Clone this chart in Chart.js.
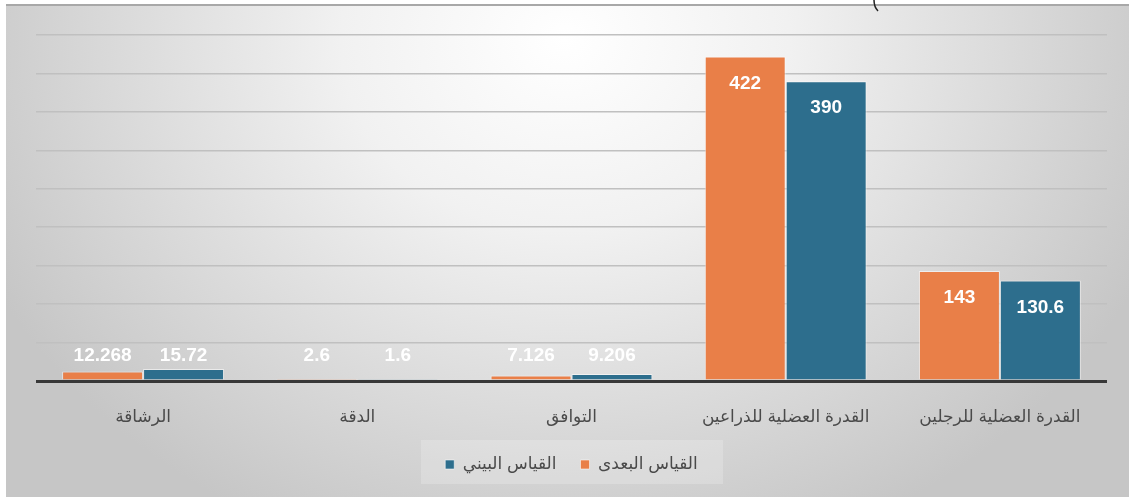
<!DOCTYPE html>
<html>
<head>
<meta charset="utf-8">
<script src="https://cdn.jsdelivr.net/npm/chart.js@4/dist/chart.umd.min.js"></script>
<style>
  html, body { margin: 0; padding: 0; background: #fff; }
  #wrap { width: 1129px; height: 497px; position: relative; }
</style>
</head>
<body>
<div id="wrap"><canvas id="chart"></canvas></div>
<script>
// ─── Data ───
const categories = ['الرشاقة', 'الدقة', 'التوافق', 'القدرة العضلية للذراعين', 'القدرة العضلية للرجلين'];
const postValues = [12.268, 2.6, 7.126, 422, 143];      // القياس البعدى
const midValues = [15.72, 1.6, 9.206, 390, 130.6];      // القياس البيني
const seriesNames = ['القياس البعدى', 'القياس البيني'];
const yMax = 450;
const yStep = 50;

const ORANGE = '#E97F48';
const BLUE = '#2D6E8D';
const FONT = "'Liberation Sans', 'DejaVu Sans', Arial, sans-serif";

// ─── Plugins ───
const backdrop = {
  id: 'backdrop',
  beforeDraw(chart) {
    const { ctx, width, height } = chart;
    ctx.save();
    ctx.fillStyle = '#fff';
    ctx.fillRect(0, 0, width, height);
    // soft radial grey panel
    ctx.save();
    ctx.beginPath();
    ctx.rect(6, 5, width - 6, height - 5);
    ctx.clip();
    ctx.translate(565, 40);
    ctx.scale(1, 0.85);
    const g = ctx.createRadialGradient(0, 0, 0, 0, 0, 640);
    g.addColorStop(0, '#ffffff');
    g.addColorStop(0.35, '#f1f1f1');
    g.addColorStop(1, '#c6c6c6');
    ctx.fillStyle = g;
    ctx.fillRect(-700, -100, 1400, 700);
    ctx.restore();
    // top edge line
    ctx.fillStyle = '#a8a8a8';
    ctx.fillRect(6, 4, width - 6, 2);
    // leftover stroke of a cropped title bracket
    ctx.strokeStyle = '#222';
    ctx.lineWidth = 1.5;
    ctx.beginPath();
    ctx.moveTo(874, 0);
    ctx.quadraticCurveTo(874, 7, 878, 11);
    ctx.stroke();
    // legend panel
    ctx.fillStyle = 'rgba(255,255,255,0.2)';
    ctx.fillRect(421, 440, 302, 44);
    ctx.restore();
  },
};

const barLabels = {
  id: 'barLabels',
  afterDatasetsDraw(chart) {
    const { ctx } = chart;
    const base = chart.scales.y.getPixelForValue(0);
    ctx.save();
    ctx.font = `bold 19px ${FONT}`;
    ctx.fillStyle = '#fff';
    ctx.textAlign = 'center';
    ctx.textBaseline = 'middle';
    chart.data.datasets.forEach((ds, i) => {
      chart.getDatasetMeta(i).data.forEach((bar, j) => {
        const y = Math.min(bar.y + 27, base - 25);
        ctx.fillText(String(ds.data[j]), bar.x, y);
      });
    });
    ctx.restore();
  },
};

// ─── Chart ───
new Chart(document.getElementById('chart'), {
  type: 'bar',
  data: {
    labels: categories,
    datasets: [
      {
        label: seriesNames[0],
        data: postValues,
        backgroundColor: ORANGE,
        borderColor: 'rgba(255,255,255,0.55)',
        borderWidth: 1,
        borderSkipped: 'bottom',
      },
      {
        label: seriesNames[1],
        data: midValues,
        backgroundColor: BLUE,
        borderColor: 'rgba(255,255,255,0.55)',
        borderWidth: 1,
        borderSkipped: 'bottom',
      },
    ],
  },
  options: {
    responsive: true,
    maintainAspectRatio: false,
    animation: false,
    layout: { padding: { left: 36, right: 22, top: 35, bottom: 14 } },
    categoryPercentage: 0.756,
    barPercentage: 1,
    plugins: {
      legend: {
        position: 'bottom',
        reverse: true,
        labels: {
          boxWidth: 9,
          boxHeight: 9,
          padding: 24,
          color: '#4a4a4a',
          font: { family: FONT, size: 17 },
        },
      },
      tooltip: { enabled: false },
    },
    scales: {
      x: {
        grid: { display: false },
        border: { display: false },
        ticks: {
          color: '#4a4a4a',
          padding: 18,
          font: { family: FONT, size: 17 },
          maxRotation: 0,
        },
        afterFit: (s) => { s.height = 51; },
      },
      y: {
        min: 0,
        max: yMax,
        ticks: { display: false, stepSize: yStep },
        border: { display: false },
        grid: {
          drawTicks: false,
          color: (c) => (c.tick.value === 0 ? '#383838' : '#c0c0c0'),
          lineWidth: (c) => (c.tick.value === 0 ? 3 : 1.5),
        },
        afterFit: (s) => { s.width = 0; },
      },
    },
  },
  plugins: [backdrop, barLabels],
});
</script>
</body>
</html>
